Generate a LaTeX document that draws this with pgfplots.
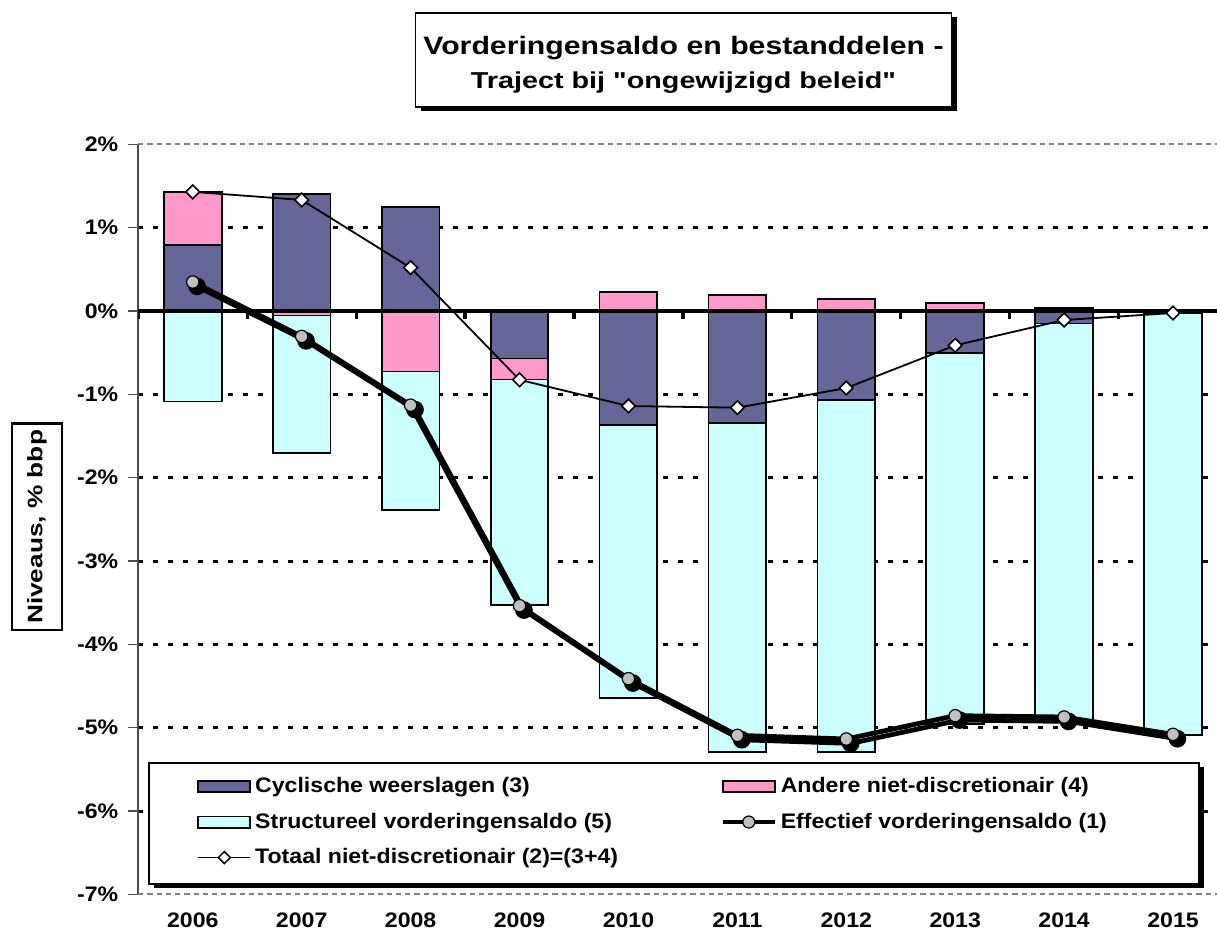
\documentclass[border=0pt]{standalone}
\usepackage{fontspec}
\setmainfont{Liberation Sans}[FakeStretch=1.1]
\newfontfamily\titlefont{Liberation Sans}[FakeStretch=1.2]
\newfontfamily\titlefontb{Liberation Sans}[FakeStretch=1.25]
\newfontfamily\labelfont{Liberation Sans}[FakeStretch=1.25]
\usepackage{pgfplots}
\usepackage{pgfplotstable}
\pgfplotsset{compat=1.18}
\usetikzlibrary{shadows}
\definecolor{purp}{HTML}{666699}
\definecolor{pinkc}{HTML}{FF99CC}
\definecolor{cyanc}{HTML}{CCFFFF}
\definecolor{greyc}{HTML}{C0C0C0}

% x: 0=2006 ... 9=2015
% cyc: Cyclische weerslagen (3), oth: Andere niet-discretionair (4)
% str: Structureel vorderingensaldo (5), tot: Totaal niet-discretionair (2), eff: Effectief vorderingensaldo (1)
\pgfplotstableread{
x cyc oth str tot eff
0 0.788 0.644 -1.085 1.430 0.348
1 1.404 -0.053 -1.652 1.333 -0.305
2 1.248 -0.725 -1.663 0.520 -1.130
3 -0.570 -0.252 -2.708 -0.826 -3.536
4 -1.368 0.232 -3.272 -1.140 -4.412
5 -1.348 0.196 -3.944 -1.160 -5.092
6 -1.064 0.140 -4.228 -0.924 -5.136
7 -0.508 0.100 -4.448 -0.412 -4.856
8 -0.150 0.040 -4.774 -0.108 -4.872
9 -0.030 0.006 -5.058 -0.024 -5.080
}\data

\begin{document}
\begin{tikzpicture}
\useasboundingbox (0pt,0pt) rectangle (608.5pt,469.5pt);
\begin{axis}[
  at={(69.15pt,22.33pt)}, anchor=south west,
  scale only axis, width=544.6pt, height=375pt,
  xmin=-0.5, xmax=9.5, ymin=-7, ymax=2,
  axis lines*=left, separate axis lines,
  x axis line style={draw=none},
  y axis line style={draw=black!70, line width=1pt},
  xtick={0,1,2,3,4,5,6,7,8,9},
  xticklabels={2006,2007,2008,2009,2010,2011,2012,2013,2014,2015},
  xtick style={draw=none},
  xticklabel style={anchor=base, yshift=-11.5pt},
  ytick={-6,-5,-4,-3,-2,-1,0,1},
  yticklabels={-6\%,-5\%,-4\%,-3\%,-2\%,-1\%,0\%,1\%},
  extra y ticks={-7,2}, extra y tick labels={-7\%,2\%},
  extra y tick style={grid=major, major grid style={gray, line width=0.9pt, dash pattern=on 2.6pt off 2pt}},
  ymajorgrids,
  major grid style={black, line width=1.5pt, dash pattern=on 2.5pt off 5pt},
  tick align=outside, major tick length=5pt,
  ytick style={draw=black!70, line width=0.8pt},
  tick label style={font=\bfseries\fontsize{10.5}{12}\selectfont},
  yticklabel style={xshift=-1.5pt},
  ylabel={Niveaus, \% bbp},
  ylabel style={at={(axis description cs:-0.0930,0.4899)}, anchor=center,
    draw=black, line width=1.2pt, minimum width=103.3pt, minimum height=25pt, inner sep=0pt,
    font=\labelfont\bfseries\fontsize{10.5}{12}\selectfont},
  legend columns=2, legend cell align=left,
  legend style={at={(0.00982,0.17605)}, anchor=north west, draw=none, fill=none,
    inner xsep=24pt, inner ysep=5.35pt, row sep=4.65pt, column sep=0pt,
    font=\bfseries\fontsize{10.5}{12}\selectfont},
]
% bars: outer layers first, inner layers drawn over them
\addplot[ybar, bar width=0.53, bar shift=0pt, fill=pinkc, draw=black, line width=0.9pt, forget plot]
  table[x=x, y expr={max(\thisrow{cyc},0)+max(\thisrow{oth},0)}]{\data};
\addplot[ybar, bar width=0.53, bar shift=0pt, fill=purp, draw=black, line width=0.9pt, forget plot]
  table[x=x, y expr={max(\thisrow{cyc},0)}]{\data};
\addplot[ybar, bar width=0.53, bar shift=0pt, fill=cyanc, draw=black, line width=0.9pt, forget plot]
  table[x=x, y expr={min(\thisrow{cyc},0)+min(\thisrow{oth},0)+\thisrow{str}}]{\data};
\addplot[ybar, bar width=0.53, bar shift=0pt, fill=pinkc, draw=black, line width=0.9pt, forget plot]
  table[x=x, y expr={min(\thisrow{cyc},0)+min(\thisrow{oth},0)}]{\data};
\addplot[ybar, bar width=0.53, bar shift=0pt, fill=purp, draw=black, line width=0.9pt, forget plot]
  table[x=x, y expr={min(\thisrow{cyc},0)}]{\data};
% zero line and its category ticks
\addplot[black, line width=2.2pt, forget plot] coordinates {(-0.5,0) (9.5,0)};
\addplot[ycomb, black, line width=1.6pt, forget plot] coordinates {
  (-0.5,-0.09) (0.5,-0.09) (1.5,-0.09) (2.5,-0.09) (3.5,-0.09) (4.5,-0.09)
  (5.5,-0.09) (6.5,-0.09) (7.5,-0.09) (8.5,-0.09) (9.5,-0.09)};
% Totaal niet-discretionair
\addplot[black, line width=0.9pt, mark=square*, mark size=2.4pt,
  mark options={rotate=45, fill=white, draw=black, line width=0.8pt}, forget plot]
  table[x=x, y=tot]{\data};
% Effectief vorderingensaldo: shadow then line
\addplot[black, line width=2.4pt, mark=*, mark size=3.2pt, mark options={fill=black},
  xshift=2.2pt, yshift=-2.2pt, forget plot] table[x=x, y=eff]{\data};
\addplot[black, line width=2.4pt, mark=*, mark size=3.1pt,
  mark options={fill=greyc, draw=black, line width=0.6pt}, forget plot] table[x=x, y=eff]{\data};
% legend frame with shadow
\node[draw=black, line width=1pt, fill=white, anchor=north west, inner sep=0pt,
  minimum width=525pt, minimum height=60.2pt,
  drop shadow={shadow xshift=2.5pt, shadow yshift=-2pt, fill=black, opacity=1}]
  at (rel axis cs:0.0085,0.17605) {};

\addlegendimage{legend image code/.code={\draw[fill=purp, draw=black, line width=0.9pt] (0pt,-2.8pt) rectangle (26pt,2.8pt);}}
\addlegendentry{\makebox[230.8pt][l]{Cyclische weerslagen (3)}}
\addlegendimage{legend image code/.code={\draw[fill=pinkc, draw=black, line width=0.9pt] (0pt,-2.8pt) rectangle (26pt,2.8pt);}}
\addlegendentry{\makebox[181pt][l]{Andere niet-discretionair (4)}}
\addlegendimage{legend image code/.code={\draw[fill=cyanc, draw=black, line width=0.9pt] (0pt,-2.8pt) rectangle (26pt,2.8pt);}}
\addlegendentry{\makebox[230.8pt][l]{Structureel vorderingensaldo (5)}}
\addlegendimage{legend image code/.code={\draw[black, line width=2pt] (0pt,0pt) -- (26pt,0pt); \draw[black, fill=greyc, line width=0.6pt] (13pt,0pt) circle (3pt);}}
\addlegendentry{\makebox[181pt][l]{Effectief vorderingensaldo (1)}}
\addlegendimage{legend image code/.code={\draw[black, line width=0.9pt] (0pt,0pt) -- (26pt,0pt); \draw[black, fill=white, line width=0.75pt] (13pt,3pt) -- (16pt,0pt) -- (13pt,-3pt) -- (10pt,0pt) -- cycle;}}
\addlegendentry{\makebox[230.8pt][l]{Totaal niet-discretionair (2)=(3+4)}}
\end{axis}
% title box
\node[draw=black, line width=0.85pt, fill=white, minimum width=268pt, minimum height=47pt, inner sep=0pt,
  drop shadow={shadow xshift=2.5pt, shadow yshift=-2pt, fill=black, opacity=1}] at (341.75pt,439.67pt) {};
\node[anchor=base, inner sep=0pt, font=\titlefont\bfseries\fontsize{12.6}{14}\selectfont] at (341.75pt,442pt) {Vorderingensaldo en bestanddelen -};
\node[anchor=base, inner sep=0pt, font=\titlefontb\bfseries\fontsize{11.5}{13}\selectfont] at (341.75pt,425pt) {Traject bij "ongewijzigd beleid"};
\end{tikzpicture}
\end{document}
